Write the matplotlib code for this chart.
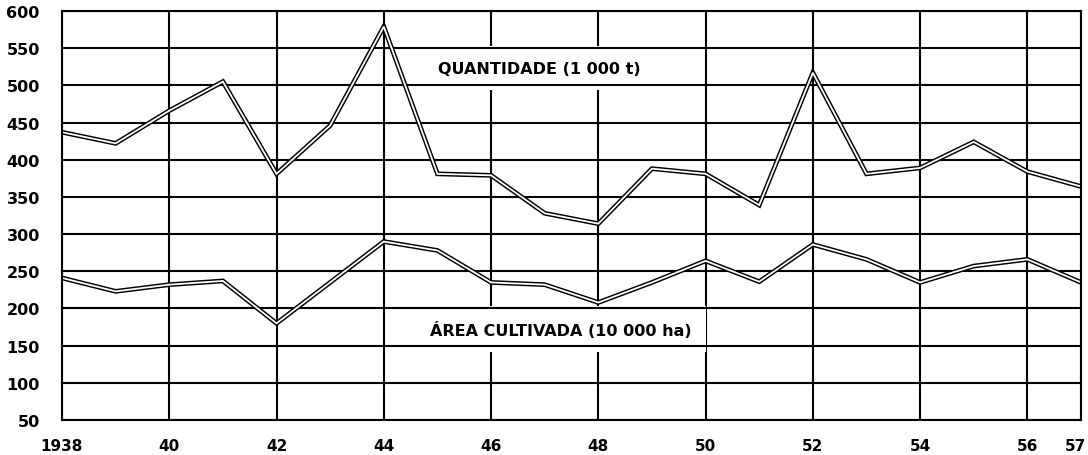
import matplotlib
matplotlib.use("Agg")
import matplotlib.pyplot as plt
from matplotlib.transforms import ScaledTranslation

# ── Data ────────────────────────────────────────────────────
years = [1938, 1939, 1940, 1941, 1942, 1943, 1944, 1945, 1946, 1947,
         1948, 1949, 1950, 1951, 1952, 1953, 1954, 1955, 1956, 1957]

quantidade = [437, 422, 466, 505, 381, 446, 579, 381, 379, 328,
              314, 388, 381, 339, 517, 381, 389, 424, 384, 364]

area = [241, 223, 232, 237, 180, 235, 290, 278, 235, 232,
        208, 235, 264, 236, 286, 266, 235, 257, 266, 235]

x_ticks  = [1938, 1940, 1942, 1944, 1946, 1948, 1950, 1952, 1954, 1956, 1957]
x_labels = ["1938", "40", "42", "44", "46", "48", "50", "52", "54", "56", "57"]
y_ticks  = [50, 100, 150, 200, 250, 300, 350, 400, 450, 500, 550, 600]

label_qtd  = "QUANTIDADE (1 000 t)"
label_area = "ÁREA CULTIVADA (10 000 ha)"

# ── Plot ────────────────────────────────────────────────────
fig = plt.figure(figsize=(10.88, 4.56), dpi=100)
ax = fig.add_axes([62 / 1088, 35 / 456, 1019 / 1088, 409 / 456])

ax.set_xlim(1938, 1957)
ax.set_ylim(50, 600)

for x in x_ticks:
    ax.axvline(x, color="black", linewidth=1.5, zorder=1)
for y in y_ticks:
    ax.axhline(y, color="black", linewidth=1.5, zorder=3)

# double-line look: thick black stroke with a thin white core
for series in (quantidade, area):
    ax.plot(years, series, color="black", linewidth=3.4,
            solid_joinstyle="miter", zorder=4)
    ax.plot(years, series, color="white", linewidth=1.3,
            solid_joinstyle="miter", zorder=5)

box = dict(facecolor="white", edgecolor="none", boxstyle="square,pad=0.9")
ax.text(1946.9, 523, label_qtd, ha="center", va="center",
        fontsize=11.5, fontweight="bold", bbox=box, zorder=2)
ax.text(1947.3, 172, label_area, ha="center", va="center",
        fontsize=11.5, fontweight="bold", bbox=box, zorder=2)

ax.set_xticks(x_ticks)
ax.set_xticklabels(x_labels, fontsize=11, fontweight="bold")
ax.set_yticks(y_ticks)
ax.set_yticklabels([str(v) for v in y_ticks], fontsize=11.5, fontweight="bold")
ax.tick_params(axis="both", length=0)
ax.tick_params(axis="x", pad=13)
ax.tick_params(axis="y", pad=16)

# last year label sits tight against the right edge
last = ax.get_xticklabels()[-1]
last.set_horizontalalignment("right")
last.set_transform(last.get_transform() + ScaledTranslation(5 / 100, 0, fig.dpi_scale_trans))

for spine in ax.spines.values():
    spine.set_linewidth(1.5)
    spine.set_zorder(6)

fig.savefig("out.png", dpi=100)
